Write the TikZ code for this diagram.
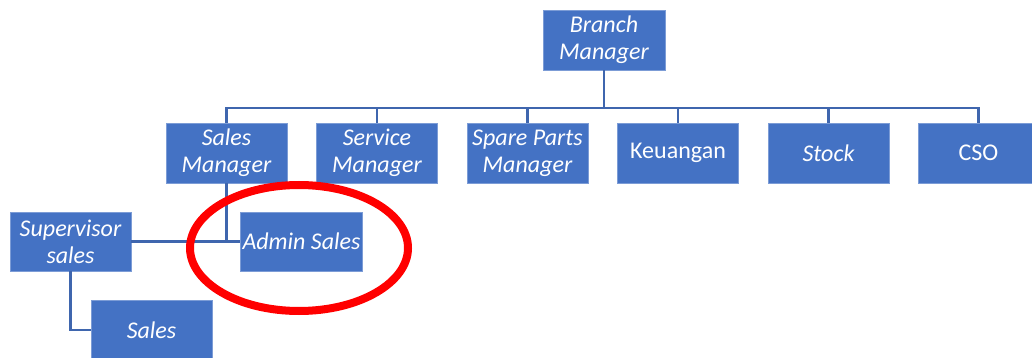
\documentclass[tikz,border=0pt]{standalone}
\usepackage{fontspec}
\setmainfont{Carlito}
\definecolor{boxblue}{HTML}{4472C4}
\definecolor{linkblue}{HTML}{3F66AE}
\definecolor{markred}{HTML}{FF0000}
\begin{document}
\begin{tikzpicture}[x=1pt,y=-1pt,
  unit/.style={fill=boxblue, draw=boxblue!70!white, line width=0.6pt,
    minimum width=121pt, minimum height=60pt, inner sep=2pt,
    text=white, align=center, font=\fontsize{24}{27}\selectfont\itshape},
  plain/.style={font=\fontsize{24}{27}\selectfont\upshape},
  link/.style={draw=linkblue, line width=2.8pt}]
\useasboundingbox (0,0) rectangle (1032,358);
\clip (0,0) rectangle (1032,358);

% top level
\node[unit, minimum width=122pt] (bm) at (604,40) {Branch\\Manager};

% department heads
\node[unit] (sm)  at (226.5,153) {Sales\\Manager};
\node[unit] (svm) at (377,153)   {Service\\Manager};
\node[unit] (spm) at (527.5,153) {Spare Parts\\Manager};
\node[unit, plain] (keu) at (678,153) {Keuangan};
\node[unit] (stk) at (828.5,153) {Stock};
\node[unit, plain] (cso) at (978.5,153) {CSO};

% sales team
\node[unit, minimum height=59pt] (sup) at (70.5,241.5)  {Supervisor\\sales};
\node[unit, minimum height=59pt] (adm) at (301.5,241.5) {Admin Sales};
\node[unit] (sal) at (151.5,330) {Sales};

% branch manager to department heads
\coordinate (bus) at (604,108);
\draw[link] (bm.south) -- (bus);
\foreach \c in {sm,svm,spm,keu,stk,cso}
  \draw[link] (bus) -| (\c.north);

% sales manager to its staff
\draw[link] (sm.south) -- (sm.south |- adm.west);
\draw[link] (sup.east) -- (adm.west);
\draw[link] (sup.south) |- (sal.west);

% highlight ring
\draw[markred, line width=8pt] (299,248) ellipse [x radius=109, y radius=63];
\end{tikzpicture}
\end{document}
